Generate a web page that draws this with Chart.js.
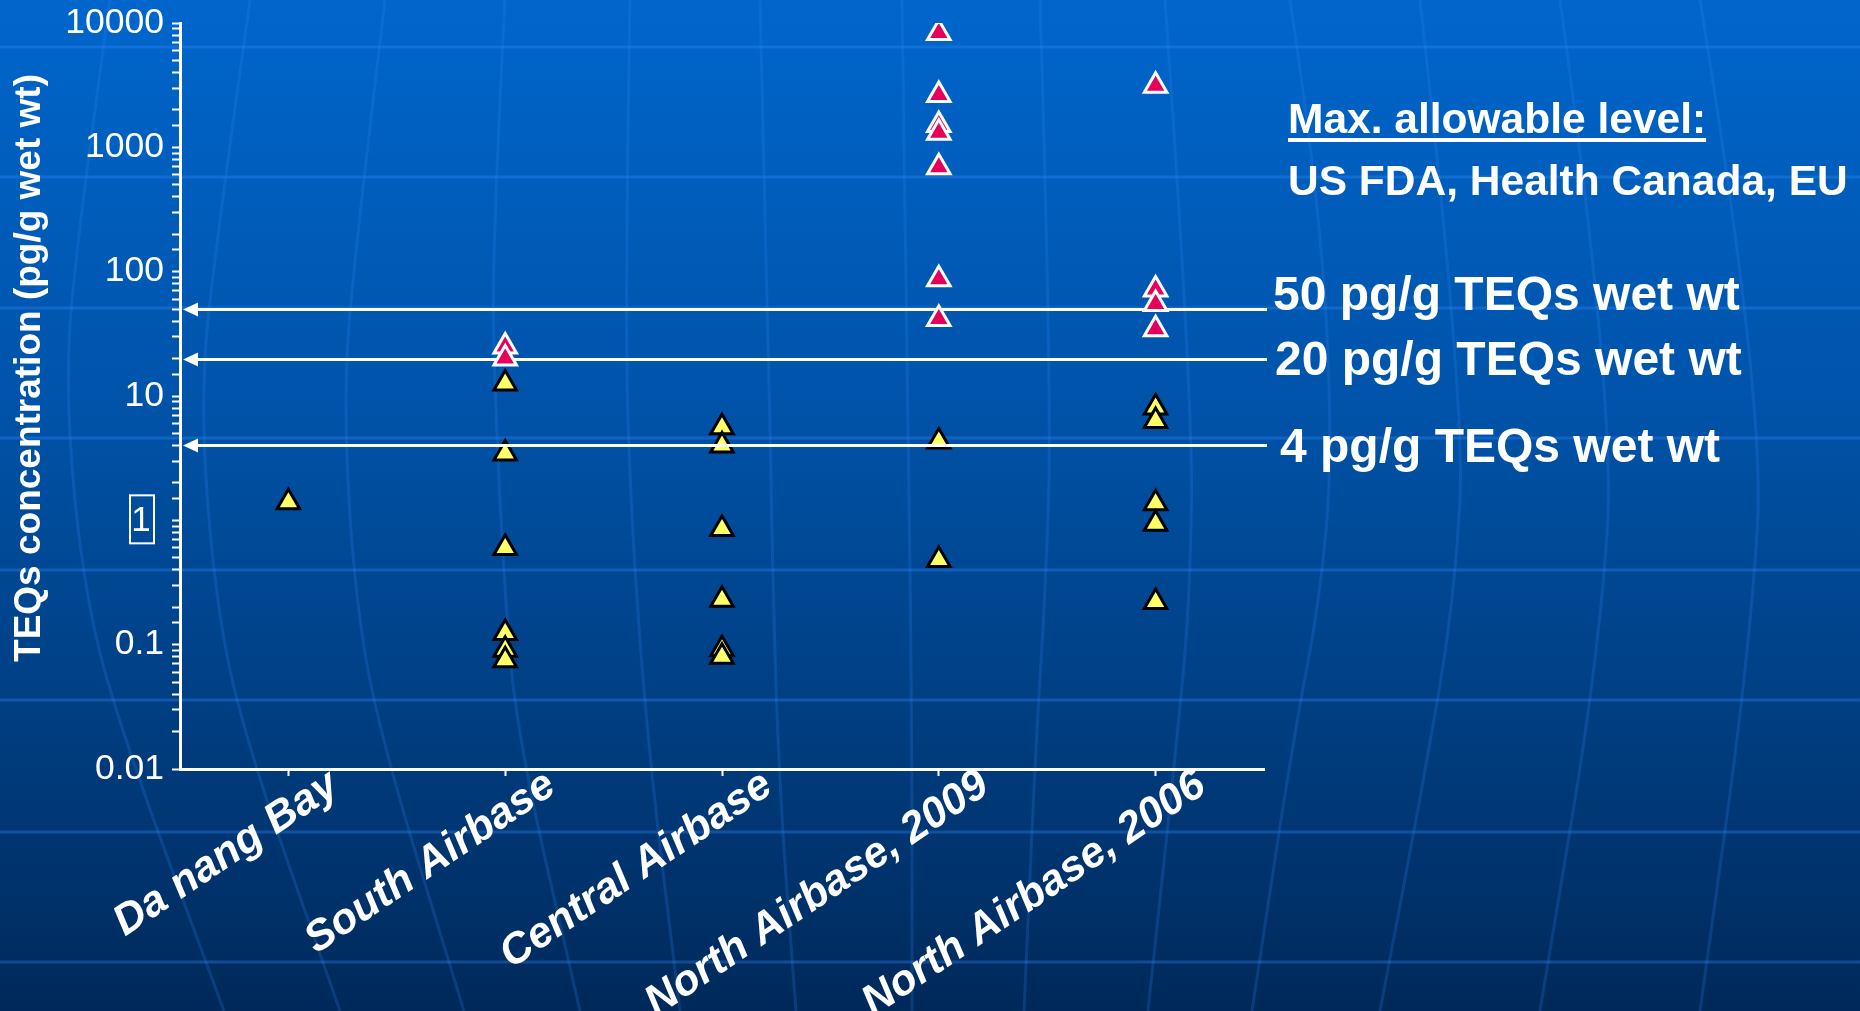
<!DOCTYPE html>
<html>
<head>
<meta charset="utf-8">
<script src="https://cdn.jsdelivr.net/npm/chart.js@4.4.1/dist/chart.umd.min.js"></script>
<style>
  html, body { margin: 0; padding: 0; background: #003d80; }
  #wrap { width: 1860px; height: 1011px; }
</style>
</head>
<body>
<div id="wrap"><canvas id="teqChart"></canvas></div>
<script>
// sites on the x axis
const categories = ['Da nang Bay', 'South Airbase', 'Central Airbase', 'North Airbase, 2009', 'North Airbase, 2006'];

// TEQs (pg/g wet wt), one list per site
const belowLimitValues = [
  [1.4],
  [12.6, 3.45, 0.6, 0.124, 0.091, 0.075],
  [5.6, 4.0, 0.85, 0.23, 0.092, 0.08],
  [4.3, 0.48],
  [8.1, 6.3, 1.37, 0.94, 0.22]
];
const aboveLimitValues = [
  [],
  [25, 20],
  [],
  [8300, 2630, 1510, 1310, 690, 87, 41.6],
  [3130, 72, 55, 34.5]
];

// regulatory limits
const limitValues = [50, 20, 4];
const limitLabels = ['50 pg/g TEQs wet wt', '20 pg/g TEQs wet wt', '4 pg/g TEQs wet wt'];

// y tick labels (decades only)
const yTickLabels = ['0.01', '0.1', '1', '10', '100', '1000', '10000'];

const fontFamily = "'Liberation Sans', Arial, sans-serif";
Chart.defaults.font.family = fontFamily;

function toPoints(groups) {
  return groups.flatMap((vals, i) => vals.map(v => ({ x: categories[i], y: v })));
}

// background decoration: latitude rows and bent meridians of the slide template
const latitudeRows = [47, 177, 308, 438, 570, 700, 832, 962];
const meridians = [
  [[110, 0], [75, 250], [65, 400], [85, 600], [124, 740], [224, 1011]],
  [[250, 0], [215, 250], [200, 400], [215, 600], [245, 740], [340, 1011]],
  [[385, 0], [355, 250], [343, 400], [355, 600], [381, 740], [464, 1011]],
  [[505, 0], [492, 250], [495, 400], [505, 600], [518, 740], [580, 1011]],
  [[630, 0], [625, 300], [630, 500], [647, 740], [680, 1011]],
  [[760, 0], [768, 300], [773, 600], [780, 800], [796, 1011]],
  [[902, 0], [908, 400], [912, 740], [912, 1011]],
  [[1040, 0], [1052, 400], [1045, 600], [1036, 740], [1024, 1011]],
  [[1165, 0], [1193, 400], [1190, 600], [1177, 740], [1148, 1011]],
  [[1290, 0], [1320, 200], [1333, 450], [1320, 600], [1293, 740], [1252, 1011]],
  [[1420, 0], [1465, 400], [1455, 600], [1420, 800], [1380, 1011]],
  [[1560, 0], [1615, 400], [1600, 650], [1540, 1011]],
  [[1700, 0], [1765, 400], [1750, 650], [1700, 1011]]
];

const backdrop = {
  id: 'backdrop',
  beforeDraw(chart) {
    const { ctx, width, height } = chart;
    ctx.save();
    const g = ctx.createLinearGradient(0, 0, 0, height);
    g.addColorStop(0, '#0066cc');
    g.addColorStop(0.4, '#0053a9');
    g.addColorStop(0.75, '#003b7c');
    g.addColorStop(1, '#00295a');
    ctx.fillStyle = g;
    ctx.fillRect(0, 0, width, height);

    ctx.strokeStyle = 'rgba(50,140,255,0.33)';
    ctx.lineWidth = 3;
    latitudeRows.forEach(y => {
      ctx.beginPath();
      ctx.moveTo(0, y);
      ctx.lineTo(width, y);
      ctx.stroke();
    });
    ctx.strokeStyle = 'rgba(50,140,255,0.2)';
    meridians.forEach(p => {
      ctx.beginPath();
      ctx.moveTo(p[0][0], p[0][1]);
      for (let i = 1; i < p.length - 1; i++) {
        const mx = (p[i][0] + p[i + 1][0]) / 2, my = (p[i][1] + p[i + 1][1]) / 2;
        ctx.quadraticCurveTo(p[i][0], p[i][1], mx, my);
      }
      ctx.lineTo(p[p.length - 1][0], p[p.length - 1][1]);
      ctx.stroke();
    });
    ctx.restore();
  }
};

// limit lines go over the yellow markers but under the red ones
const limitLines = {
  id: 'limitLines',
  beforeDatasetDraw(chart, args) {
    if (args.index !== 0) return;
    const { ctx, chartArea } = chart;
    const y = chart.scales.y;
    ctx.save();
    ctx.strokeStyle = '#fff';
    ctx.fillStyle = '#fff';
    ctx.lineWidth = 3;
    limitValues.forEach(v => {
      const py = Math.round(y.getPixelForValue(v)) + 0.5;
      const x0 = chartArea.left + 3;
      ctx.beginPath();
      ctx.moveTo(x0 + 12, py);
      ctx.lineTo(chartArea.right + 3, py);
      ctx.stroke();
      ctx.beginPath();
      ctx.moveTo(x0, py);
      ctx.lineTo(x0 + 15, py - 7);
      ctx.lineTo(x0 + 15, py + 7);
      ctx.closePath();
      ctx.fill();
    });
    ctx.restore();
  }
};

const labelOffsetsX = [1273, 1275, 1280];
const labelOffsetsY = [1, 16, 17];

const annotations = {
  id: 'annotations',
  afterDraw(chart) {
    const { ctx } = chart;
    const y = chart.scales.y;
    ctx.save();
    ctx.fillStyle = '#fff';
    ctx.strokeStyle = '#fff';

    // y axis title
    ctx.save();
    ctx.translate(30, 368);
    ctx.rotate(-Math.PI / 2);
    ctx.font = 'bold 37px ' + fontFamily;
    ctx.textAlign = 'center';
    ctx.textBaseline = 'middle';
    ctx.fillText('TEQs concentration (pg/g wet wt)', 0, 0);
    ctx.restore();

    // boxed "1" on the y axis
    const p1 = y.getPixelForValue(1);
    ctx.font = '35px ' + fontFamily;
    ctx.textAlign = 'center';
    ctx.textBaseline = 'middle';
    ctx.fillText(yTickLabels[2], 141, p1 + 1);
    ctx.lineWidth = 2;
    ctx.strokeRect(130, p1 - 25, 24, 48);

    // limit labels
    ctx.textAlign = 'left';
    ctx.textBaseline = 'alphabetic';
    ctx.font = 'bold 48px ' + fontFamily;
    limitValues.forEach((v, i) => {
      const py = y.getPixelForValue(v);
      ctx.fillText(limitLabels[i], labelOffsetsX[i], py + labelOffsetsY[i]);
    });

    // heading
    ctx.font = 'bold 42.5px ' + fontFamily;
    const head = 'Max. allowable level:';
    ctx.fillText(head, 1288, 133);
    const w = ctx.measureText(head).width;
    ctx.fillRect(1288, 138, w, 4);
    ctx.fillText('US FDA, Health Canada, EU', 1288, 195);
    ctx.restore();
  }
};

const ctx = document.getElementById('teqChart').getContext('2d');
const teqChart = new Chart(ctx, {
  type: 'line',
  data: {
    labels: categories,
    datasets: [
      {
        label: 'Above limit',
        data: toPoints(aboveLimitValues),
        showLine: false,
        pointStyle: 'triangle',
        pointRadius: 13,
        pointBorderWidth: 3,
        pointBackgroundColor: '#e6005a',
        pointBorderColor: '#ffffff'
      },
      {
        label: 'Below limit',
        data: toPoints(belowLimitValues),
        showLine: false,
        pointStyle: 'triangle',
        pointRadius: 13,
        pointBorderWidth: 3,
        pointBackgroundColor: '#ffff66',
        pointBorderColor: '#000000'
      }
    ]
  },
  options: {
    responsive: true,
    maintainAspectRatio: false,
    animation: false,
    events: [],
    layout: { padding: { top: 23, right: 596, bottom: 0, left: 0 } },
    plugins: {
      legend: { display: false },
      tooltip: { enabled: false }
    },
    scales: {
      x: {
        type: 'category',
        offset: true,
        border: { color: '#ffffff', width: 3 },
        grid: { drawOnChartArea: false, offset: false, tickLength: 7, tickColor: '#ffffff', tickWidth: 2 },
        ticks: {
          color: '#ffffff',
          autoSkip: false,
          maxRotation: 34,
          minRotation: 34,
          padding: -16,
          labelOffset: 46,
          font: { size: 43, weight: 'bold', style: 'italic' }
        },
        afterFit(scale) { scale.height = 242; }
      },
      y: {
        type: 'logarithmic',
        min: 0.01,
        max: 10000,
        border: { color: '#ffffff', width: 3 },
        grid: { drawOnChartArea: false, tickLength: 8, tickColor: '#ffffff', tickWidth: 2 },
        ticks: {
          color: '#ffffff',
          padding: 8,
          autoSkip: false,
          font: { size: 35.5 },
          callback(value) {
            const lg = Math.log10(value);
            const k = Math.round(lg);
            if (Math.abs(lg - k) > 1e-6) return '';
            if (k === 0) return '';  // drawn boxed by the annotations plugin
            return yTickLabels[k + 2];
          }
        },
        afterFit(scale) {
          scale.width = 180;
          scale.paddingTop = 0;
          scale.paddingBottom = 0;
        }
      }
    }
  },
  plugins: [backdrop, limitLines, annotations]
});
</script>
</body>
</html>
